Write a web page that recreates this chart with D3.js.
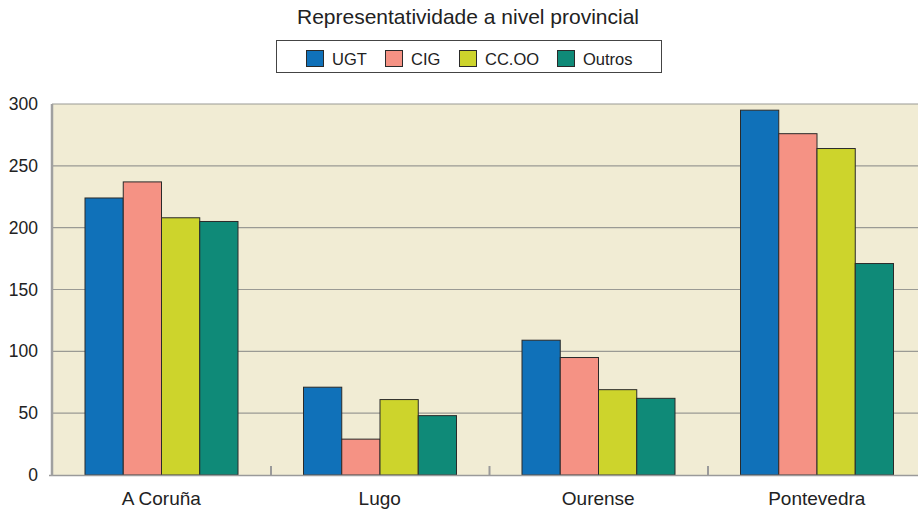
<!DOCTYPE html>
<html><head><meta charset="utf-8">
<script src="https://cdn.jsdelivr.net/npm/d3@7"></script>
<style>body{margin:0;background:#fff;} text{font-family:"Liberation Sans",Arial,sans-serif;fill:#222;}</style>
</head><body><svg id="c" width="918" height="511"></svg>
<script>
const categories = ["A Coruña","Lugo","Ourense","Pontevedra"];
const seriesNames = ["UGT","CIG","CC.OO","Outros"];
const UGT    = [224, 71, 109, 295];
const CIG    = [237, 29, 95, 276];
const CCOO   = [208, 61, 69, 264];
const Outros = [205, 48, 62, 171];
const yTicks = [0,50,100,150,200,250,300];
const colors = ["#1071b9","#f59284","#cdd42c","#0f8a78"];
const seriesValues = [UGT, CIG, CCOO, Outros];

const svg = d3.select("#c");
const L=52, R=926, T=104, B=475;
const x = d3.scaleBand().domain(categories).range([L,R]);
const x1 = d3.scaleBand().domain(seriesNames).range([33, 33+153]);
const y = d3.scaleLinear().domain([0,300]).range([B,T]);

svg.append("rect").attr("x",L).attr("y",T).attr("width",R-L).attr("height",B-T).attr("fill","#f1ecd4");

// grid
svg.append("g").selectAll("line").data(yTicks.filter(d=>d>0)).join("line")
  .attr("x1",L).attr("x2",R).attr("y1",d=>y(d)).attr("y2",d=>y(d))
  .attr("stroke","#9a9a94").attr("stroke-width",1.2);

// bars
const g = svg.append("g");
categories.forEach((c,i)=>{
  seriesNames.forEach((s,j)=>{
    const v = seriesValues[j][i];
    g.append("rect").attr("x",x(c)+x1(s)).attr("y",y(v))
      .attr("width",x1.bandwidth()).attr("height",y(0)-y(v))
      .attr("fill",colors[j]).attr("stroke","#2a2a2a").attr("stroke-width",1);
  });
});

// bottom axis line and band ticks
svg.append("line").attr("x1",L-3).attr("x2",R).attr("y1",B+0.5).attr("y2",B+0.5).attr("stroke","#9a9a9a").attr("stroke-width",1.5);
svg.append("g").selectAll("line").data(categories.slice(1)).join("line")
  .attr("x1",d=>x(d)+0.5).attr("x2",d=>x(d)+0.5).attr("y1",B-9).attr("y2",B)
  .attr("stroke","#9a9a9a").attr("stroke-width",2);
// left axis line
svg.append("line").attr("x1",L).attr("x2",L).attr("y1",T).attr("y2",B+1).attr("stroke","#a0a0a0").attr("stroke-width",2.5);

// y labels
const yAxis = d3.axisLeft(y).tickValues(yTicks).tickSize(0).tickPadding(14);
const ya = svg.append("g").attr("transform",`translate(${L},0)`).call(yAxis);
ya.select(".domain").remove();
ya.selectAll("text").style("font-size","17.5px").style("font-family","Liberation Sans, Arial, sans-serif").attr("fill","#222");

// x labels
const xAxis = d3.axisBottom(x).tickSize(0).tickPadding(17);
const xa = svg.append("g").attr("transform",`translate(0,${B})`).call(xAxis);
xa.select(".domain").remove();
xa.selectAll("text").style("font-size","19px").style("font-family","Liberation Sans, Arial, sans-serif").attr("fill","#222");

// title
svg.append("text").attr("x",468).attr("y",24).attr("text-anchor","middle").style("font-size","21px").text("Representatividade a nivel provincial");

// legend
const lg = svg.append("g");
lg.append("rect").attr("x",276.5).attr("y",40.5).attr("width",385).attr("height",32).attr("fill","#fff").attr("stroke","#444").attr("stroke-width",1);
const swX = [306,385,459,557];
seriesNames.forEach((s,j)=>{
  lg.append("rect").attr("x",swX[j]+0.5).attr("y",50.5).attr("width",17).attr("height",16).attr("fill",colors[j]).attr("stroke","#2a2a2a");
  lg.append("text").attr("x",swX[j]+26).attr("y",65).style("font-size","16.5px").text(s);
});
</script></body></html>
